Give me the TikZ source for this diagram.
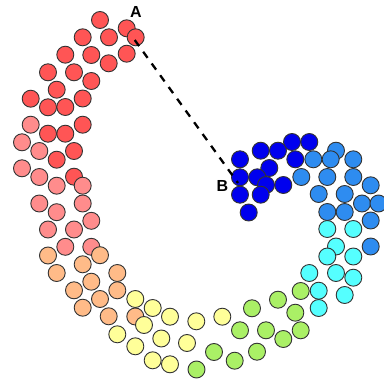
\documentclass[tikz,border=0pt]{standalone}
\usepackage{fontspec}
\setmainfont{Liberation Sans}
\definecolor{cred}{HTML}{FF5555}
\definecolor{cpink}{HTML}{FF8C8C}
\definecolor{corange}{HTML}{FFBB88}
\definecolor{cyellow}{HTML}{FFFF99}
\definecolor{cgreen}{HTML}{AAF066}
\definecolor{ccyan}{HTML}{55FFFF}
\definecolor{cmid}{HTML}{2E8CF0}
\definecolor{cdark}{HTML}{0000EE}
\definecolor{cedge}{HTML}{333333}
\begin{document}
\begin{tikzpicture}[x=1pt,y=-1pt,
  dot/.style={draw=cedge,line width=0.9pt},
  lbl/.style={font=\bfseries\fontsize{16}{17}\selectfont,inner sep=0pt},
  conn/.style={line width=2.3pt,dash pattern=on 7.5pt off 7pt}]
\useasboundingbox (0,0) rectangle (384,383);
\def\R{8.5}
% red
\foreach \x/\y in {100/20,126.7/28.3,82.7/37.3,109/37.3,135.7/37.3,65.3/54.7,91.3/55,126.7/53.7,108.7/63.3,48/72.3,74/72.3,91.3/81,56.7/89.7,30.7/98.7,82.7/98.5,48/107.3,65.3/107,82.7/124.7,48/133.7,65.3/133.7,74/151,56.7/159.7,74/176.7}
  \filldraw[dot,fill=cred] (\x,\y) circle (\R);
% pink
\foreach \x/\y in {30.7/124.7,22/142.3,39.3/151,22/168.3,39.3/177,56.7/185.7,82.7/185.7,39.3/203.5,82.7/203.5,56.7/212.2,91.3/220.8,48/229.5,74/229.5,65.3/246.8,91.3/246.8}
  \filldraw[dot,fill=cpink] (\x,\y) circle (\R);
% orange
\foreach \x/\y in {48/255.5,100/255.2,82.7/264.3,56.7/273,117.3/273,91.3/281.7,74/290.3,117.3/290.3,100/299,82.7/307.7,108.7/316.3,135.3/316.5}
  \filldraw[dot,fill=corange] (\x,\y) circle (\R);
% yellow
\foreach \x/\y in {135.3/299,152.7/308,170/316.7,144/325,117.3/334.3,161.3/338.5,135.3/346.3,152.7/360.3,170/364.3,196.3/321.3,222.3/316.7,187/343}
  \filldraw[dot,fill=cyellow] (\x,\y) circle (\R);
% green
\foreach \x/\y in {252/308.3,278/299.7,300.7/291,240/330.3,266/330.3,295.3/312.7,300.7/330.3,283.3/339,214/352,257/351.7,234.7/360.7,196.5/369.5}
  \filldraw[dot,fill=cgreen] (\x,\y) circle (\R);
% cyan
\foreach \x/\y in {327.3/229,353.3/229,336/246.5,327.3/256.5,353.3/256.5,309.3/273,336/273,353.3/277.7,318.7/290.7,344.7/295,318.7/308}
  \filldraw[dot,fill=ccyan] (\x,\y) circle (\R);
% mid blue
\foreach \x/\y in {336/150.7,313.3/159.3,330.7/159.3,353.3/159.3,301.3/177,327.3/177,353.3/177,370.7/185.3,318.7/194,344.7/194,362/203.5,378.5/203.5,327.3/212,344.7/212,370.7/220.5,370.7/246.5}
  \filldraw[dot,fill=cmid] (\x,\y) circle (\R);
% dark blue
\foreach \x/\y in {292/142,309.3/142,260.7/150.7,278/150.7,240/159.3,295.3/159.3,269.3/168,240/177.3,257.3/177.3,266/185,283.3/185,240/194.7,260.7/194.7,248.7/212.5}
  \filldraw[dot,fill=cdark] (\x,\y) circle (\R);
% labels and connector
\coordinate (pA) at (134.7,40);
\coordinate (pB) at (238,183);
\node[lbl] (A) at (136,11.5) {A};
\node[lbl] (B) at (222.3,186.3) {B};
\draw[conn] (pA) -- (pB);
\end{tikzpicture}
\end{document}
